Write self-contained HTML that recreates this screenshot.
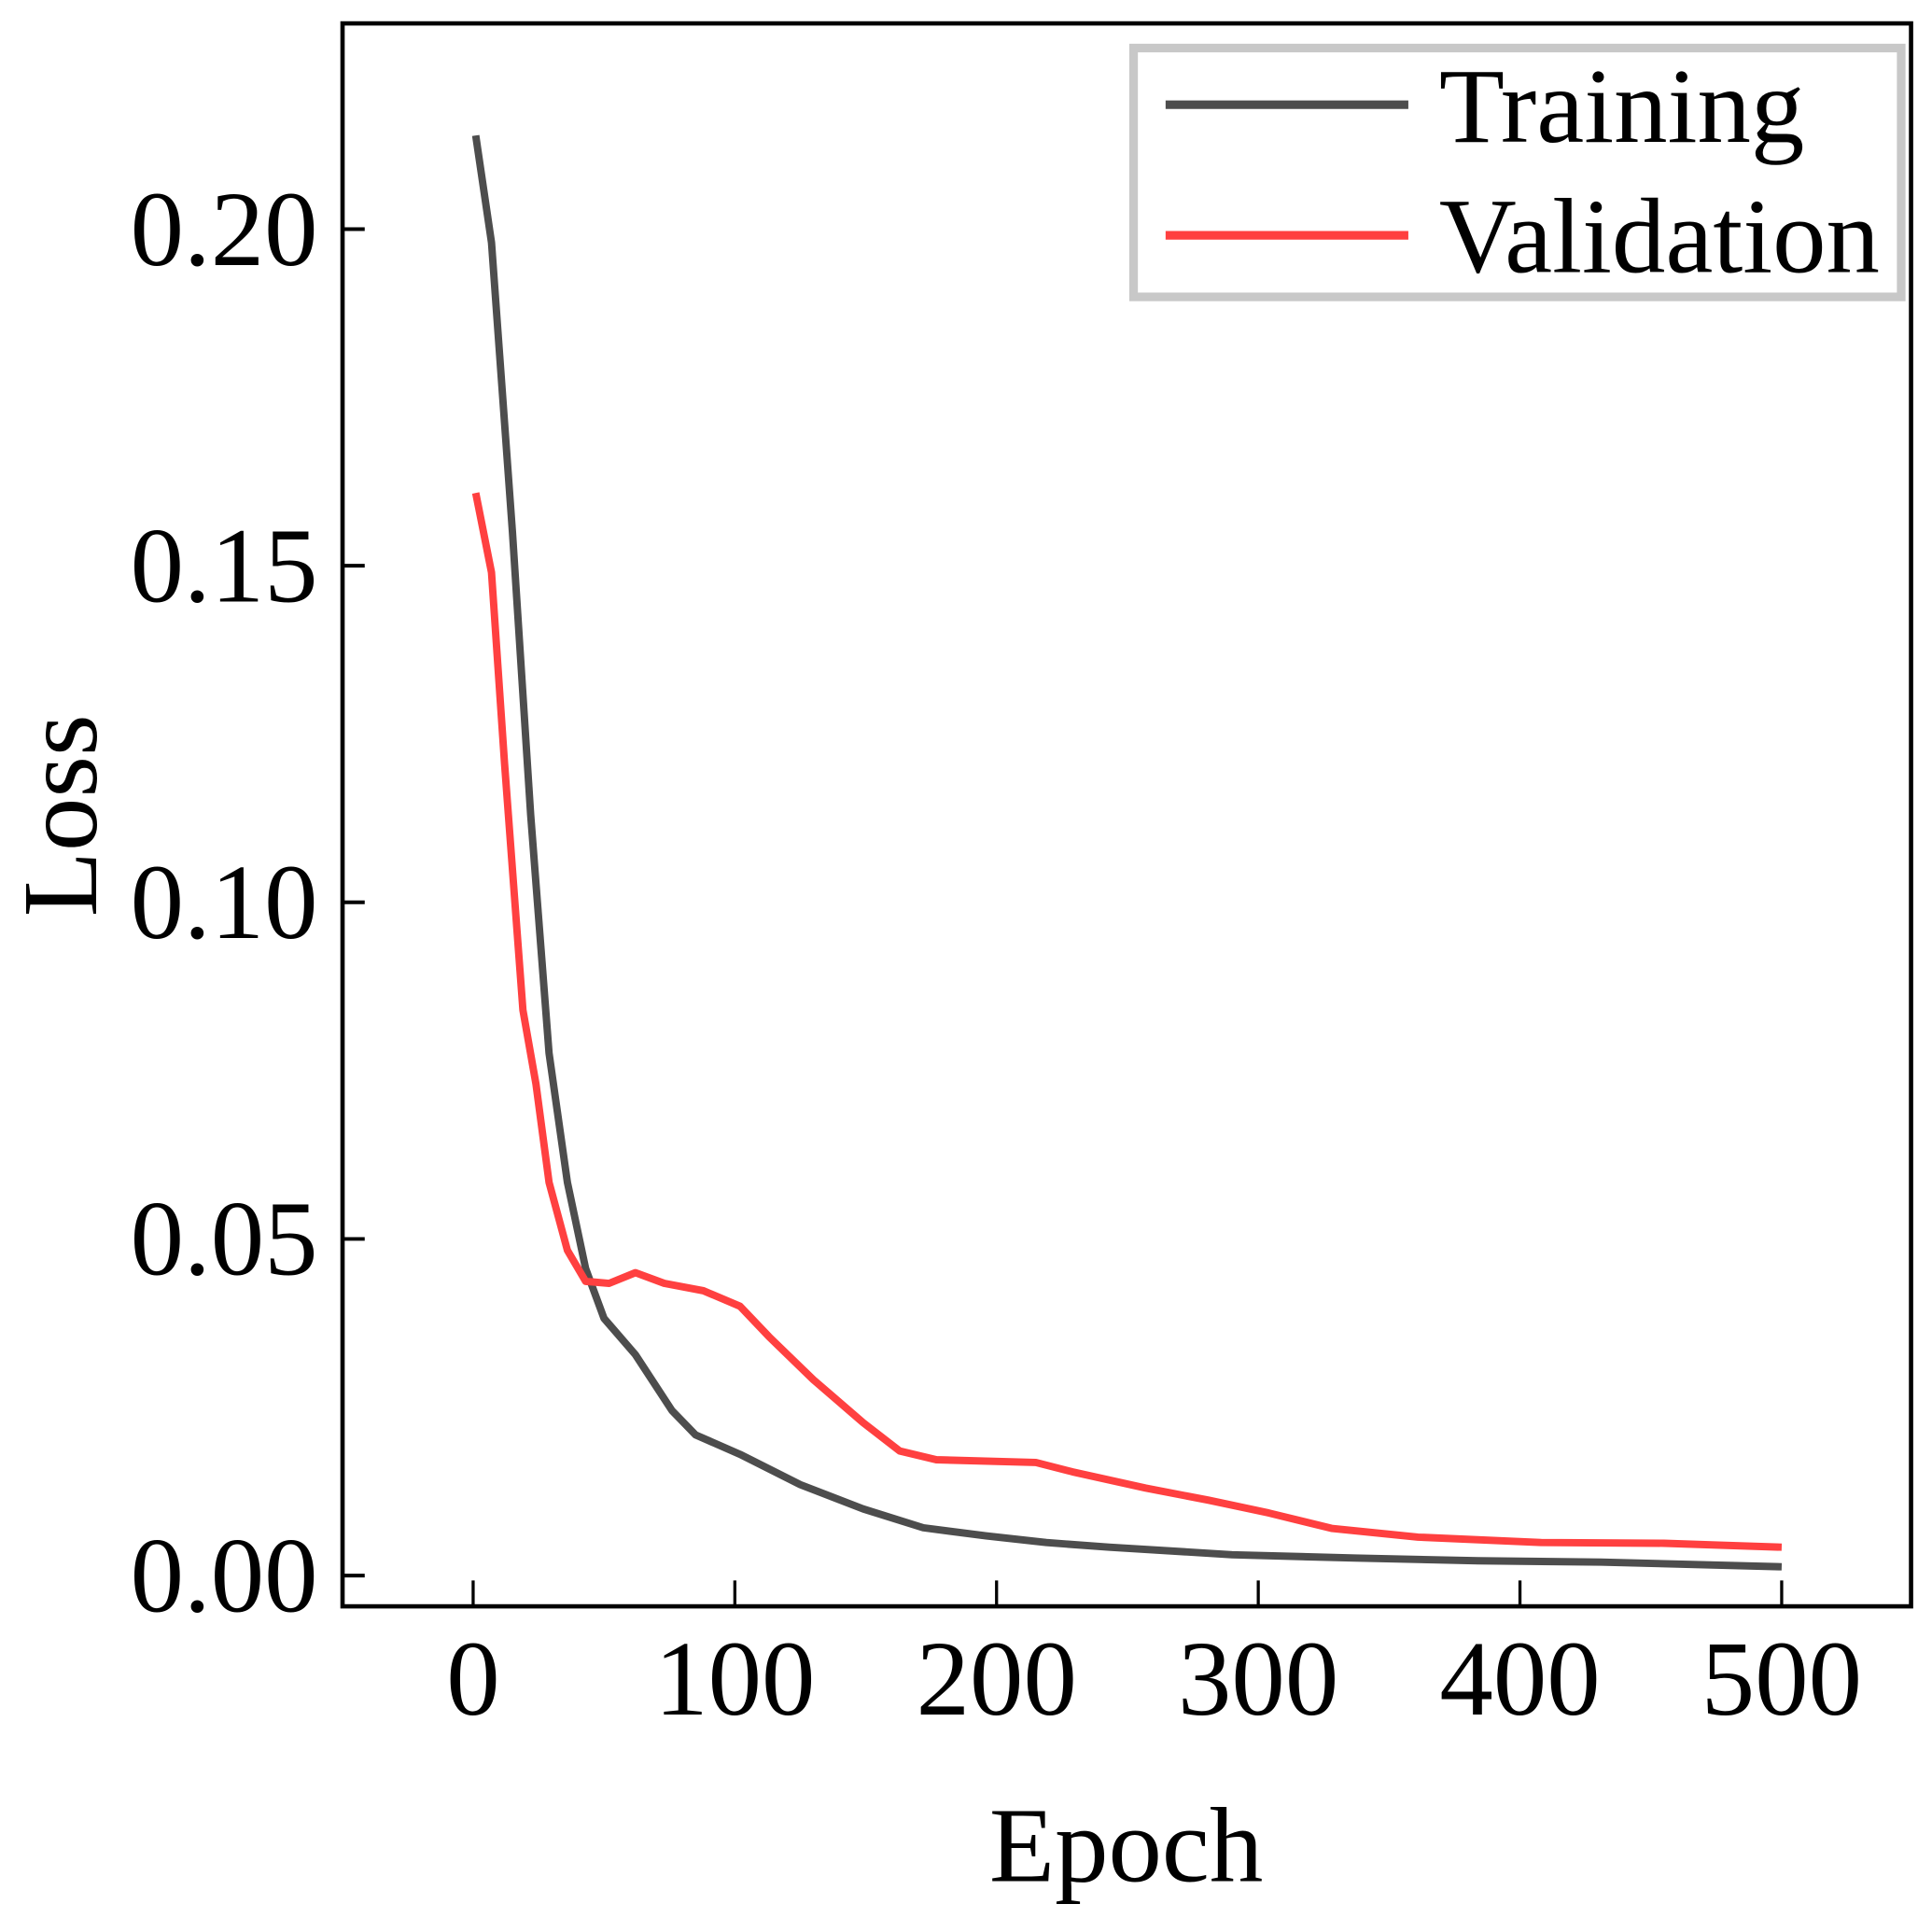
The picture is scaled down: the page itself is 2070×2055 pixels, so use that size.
<!DOCTYPE html>
<html><head><meta charset="utf-8"><style>
html,body{margin:0;padding:0;background:#fff;}
svg{display:block;}
text{font-family:"Liberation Serif",serif;fill:#000;}
</style></head><body>
<svg id="chart" width="2070" height="2055" viewBox="0 0 1568 1557" preserveAspectRatio="none" xmlns="http://www.w3.org/2000/svg">
<rect x="278" y="19" width="1273" height="1285" fill="none" stroke="#000" stroke-width="3.5"/>
<g id="xticks"></g>
<g id="yticks"></g>
<g id="series"></g>
<text x="914" y="1527" font-size="87" text-anchor="middle">Epoch</text>
<text transform="translate(78,662) rotate(-90)" font-size="87" text-anchor="middle">Loss</text>
<g>
<rect x="920" y="39" width="623" height="202" fill="#fff" stroke="#c8c8c8" stroke-width="7"/>
<line x1="946" y1="85" x2="1143" y2="85" stroke="#4d4d4d" stroke-width="7"/>
<text x="1168" y="115" font-size="87">Training</text>
<line x1="946" y1="191" x2="1143" y2="191" stroke="#ff4040" stroke-width="7"/>
<text x="1168" y="221" font-size="87">Validation</text>
</g>
</svg>
<script>
const xTickValues=[0,100,200,300,400,500];
const yTickValues=[0,0.05,0.10,0.15,0.20];
const yTickLabels=["0.00","0.05","0.10","0.15","0.20"];
const trainEpochs=[1,7,15,22,29,36,43,50,62,76,85,102,125,149,172,196,219,243,290,337,384,431,500];
const trainLoss=[0.2139,0.198,0.155,0.113,0.0776,0.0584,0.0456,0.0382,0.0328,0.0245,0.0209,0.018,0.0135,0.0099,0.0071,0.0059,0.0049,0.0042,0.0031,0.0026,0.0022,0.002,0.0013];
const valEpochs=[1,7,12,19,24,29,36,43,52,62,73,88,102,113,130,149,163,177,215,229,257,281,304,328,361,408,455,500];
const valLoss=[0.1608,0.149,0.1206,0.084,0.073,0.0584,0.0483,0.0437,0.0434,0.045,0.0434,0.0423,0.040,0.0355,0.0291,0.0227,0.0185,0.0172,0.0168,0.0154,0.013,0.0112,0.0093,0.007,0.0057,0.0049,0.0048,0.0042];
const NS="http://www.w3.org/2000/svg";
function xs(v){return 384+v*(1446-384)/500;}
function ys(v){return 1279-v*(1279-186)/0.20;}
function mk(tag,attrs,parent){const e=document.createElementNS(NS,tag);for(const k in attrs)e.setAttribute(k,attrs[k]);parent.appendChild(e);return e;}
const gx=document.getElementById('xticks');
xTickValues.forEach(v=>{
  const t=mk('line',{x1:xs(v),x2:xs(v),y1:1304,y2:1283,stroke:'#000','stroke-width':2.5},gx);
  
  
  const l=mk('text',{x:xs(v),y:1392,'font-size':87,'text-anchor':'middle'},gx);
  l.textContent=String(v);
  
  
});
const gy=document.getElementById('yticks');
yTickValues.forEach((v,i)=>{
  const t=mk('line',{x1:278,x2:296,y1:ys(v),y2:ys(v),stroke:'#000','stroke-width':3},gy);
  
  
  const l=mk('text',{x:258,y:ys(v)+29,'font-size':87,'text-anchor':'end'},gy);
  l.textContent=yTickLabels[i];
  
  
});
const gs=document.getElementById('series');
function path(ex,vals){return ex.map((e,i)=>(i?'L':'M')+xs(e).toFixed(1)+','+ys(vals[i]).toFixed(1)).join(' ');}
const pt=mk('path',{d:path(trainEpochs,trainLoss),fill:'none',stroke:'#4d4d4d','stroke-width':6,'stroke-linejoin':'round'},gs);


const pv=mk('path',{d:path(valEpochs,valLoss),fill:'none',stroke:'#ff4040','stroke-width':6,'stroke-linejoin':'round'},gs);


</script>
</body></html>
